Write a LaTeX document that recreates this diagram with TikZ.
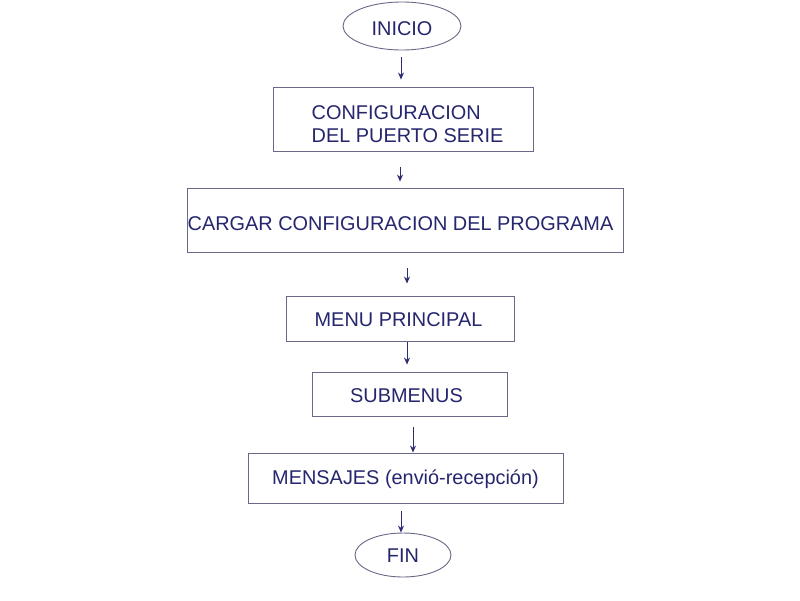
\documentclass[tikz,border=0pt]{standalone}
\usepackage{fontspec}
\setmainfont{Liberation Sans}
\usetikzlibrary{shapes.geometric,arrows.meta,calc}
\definecolor{txt}{RGB}{38,38,110}
\definecolor{edge}{RGB}{105,105,135}
\definecolor{arrc}{RGB}{45,45,115}
\begin{document}
\begin{tikzpicture}[x=1pt,y=-1pt,
  every node/.style={text=txt,font=\fontsize{19.9}{23}\selectfont,inner sep=0pt},
  term/.style={ellipse,draw=edge,line width=0.9pt},
  procbox/.style={rectangle,draw=edge,line width=0.9pt},
  tpos/.style={text height=#1,text depth=0pt},
  arr/.style={draw=arrc,line width=0.9pt,-{Stealth[length=7pt,width=6pt]}}]
\fill[white] (0,0) rectangle (800,600);
\useasboundingbox (0,0) rectangle (800,600);
\node[term,tpos=18.2pt,minimum width=118pt,minimum height=48pt] (inicio) at (402,26) {INICIO};
\node[procbox,text height=10pt,text depth=10pt,minimum width=260pt,minimum height=64pt] (b1) at (403,119) {\hspace*{9pt}\begin{tabular}[t]{@{}l@{}}CONFIGURACION\\DEL PUERTO SERIE\end{tabular}};
\node[procbox,tpos=20.2pt,minimum width=436pt,minimum height=64pt] (b2) at (405,220) {\hspace*{-9pt}CARGAR CONFIGURACION DEL PROGRAMA};
\node[procbox,tpos=16.2pt,minimum width=228pt,minimum height=45pt] (b3) at (400,318.5) {\hspace*{-3pt}MENU PRINCIPAL};
\node[procbox,tpos=16.2pt,minimum width=195pt,minimum height=44pt] (b4) at (409.5,394) {\hspace*{-6pt}SUBMENUS};
\node[procbox,tpos=12.6pt,minimum width=315pt,minimum height=50pt] (b5) at (405.5,478) {MENSAJES (envió-recepción)};
\node[term,tpos=14.2pt,minimum width=96pt,minimum height=44pt] (fin) at (403,555) {FIN};
\draw[arr] ($(inicio.south)+(-1,7)$) -- ($(b1.north)+(-2,-7)$);
\draw[arr] ($(b1.south)+(-3,16)$) -- ($(b2.north)+(-5,-6)$);
\draw[arr] ($(b2.south)+(2,16)$) -- ($(b3.north)+(7,-12)$);
\draw[arr] ($(b3.south)+(7,1)$) -- ($(b4.north)+(-2.5,-7)$);
\draw[arr] ($(b4.south)+(3.5,11)$) -- ($(b5.north)+(7.5,0)$);
\draw[arr] ($(b5.south)+(-4.5,8)$) -- ($(fin.north)+(-2,0)$);
\end{tikzpicture}
\end{document}
